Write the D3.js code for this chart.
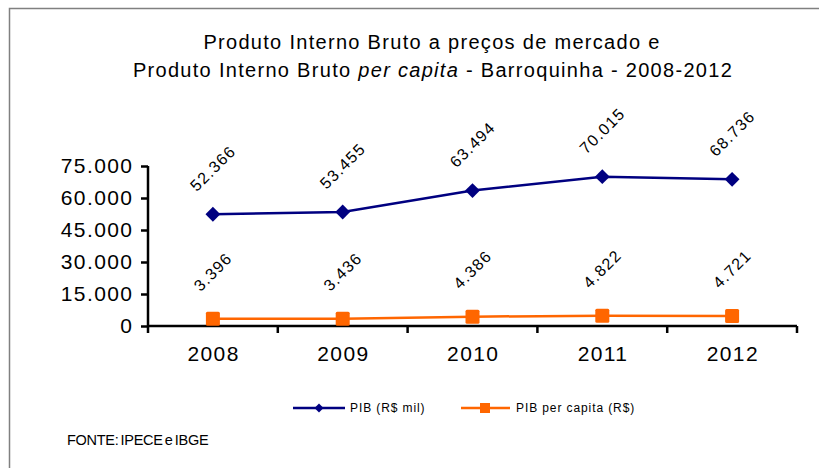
<!DOCTYPE html>
<html><head><meta charset="utf-8">
<script src="https://cdn.jsdelivr.net/npm/d3@7"></script>
<style>body{margin:0;background:#fff}svg{display:block;font-family:"Liberation Sans",Arial,sans-serif}</style>
</head><body><svg id="c" width="819" height="468"></svg>
<script>
const years = ["2008","2009","2010","2011","2012"];
const pib = [52366, 53455, 63494, 70015, 68736];
const pibPerCapita = [3396, 3436, 4386, 4822, 4721];
const yTicks = [0, 15000, 30000, 45000, 60000, 75000];
const seriesNames = ["PIB (R$ mil)", "PIB per capita (R$)"];
const colors = ["#000080", "#FF6600"];

const svg = d3.select("#c");
const fmt = v => v === 0 ? "0" : d3.format(",")(v).replace(/,/g, ".");

// frame (top & left)
svg.append("path").attr("d","M9.5,468 L9.5,8.5 L819,8.5").attr("fill","none").attr("stroke","#808080").attr("stroke-width",1.5);

// title
const t = svg.append("text").attr("text-anchor","middle").attr("font-size",20).attr("letter-spacing",1.3).attr("fill","#000");
t.append("tspan").attr("x",432).attr("y",49).text("Produto Interno Bruto a preços de mercado  e");
const l2 = t.append("tspan").attr("x",433).attr("y",77);
l2.append("tspan").text("Produto Interno Bruto ");
l2.append("tspan").attr("font-style","italic").text("per capita");
l2.append("tspan").text(" - Barroquinha - 2008-2012");

const x = d3.scaleBand().domain(years).range([148, 797]);
const y = d3.scaleLinear().domain([0, 75000]).range([326, 166]);

// y axis
const ya = svg.append("g").attr("transform","translate(148,0)")
  .call(d3.axisLeft(y).tickValues(yTicks).tickFormat(fmt).tickSize(7).tickPadding(9));
ya.selectAll("text").attr("font-size",21).attr("letter-spacing",1.4).attr("dx",1.4).attr("fill","#000").attr("font-family","Liberation Sans, Arial, sans-serif");
ya.selectAll("line,path").attr("stroke","#000").attr("stroke-width",2.5);
ya.select("path").attr("d","M0,166V326");

// x axis
const xa = svg.append("g").attr("transform","translate(0,326)")
  .call(d3.axisBottom(x).tickSize(0).tickPadding(20));
xa.selectAll("text").attr("font-size",21).attr("letter-spacing",1.4).attr("dx",0.7).attr("fill","#000").attr("font-family","Liberation Sans, Arial, sans-serif");
xa.select("path").attr("d","M148,0H797").attr("stroke","#000").attr("stroke-width",2.5);
const bounds = years.map(d => x(d)).concat([x.range()[1]]);
xa.selectAll(".bt").data(bounds).enter().append("line")
  .attr("x1",d=>d).attr("x2",d=>d).attr("y1",0).attr("y2",7).attr("stroke","#000").attr("stroke-width",2.5);

const cx = d => x(d) + x.bandwidth()/2;
const line = d3.line().x((d,i)=>cx(years[i])).y(d=>y(d));

// PIB series
svg.append("path").datum(pib).attr("d",line).attr("fill","none").attr("stroke",colors[0]).attr("stroke-width",2.5);
svg.selectAll(".dm").data(pib).enter().append("path")
  .attr("d", d3.symbol().type(d3.symbolSquare).size(110))
  .attr("transform",(d,i)=>`translate(${cx(years[i])},${y(d)}) rotate(45)`).attr("fill",colors[0]);

// per capita series
svg.append("path").datum(pibPerCapita).attr("d",line).attr("fill","none").attr("stroke",colors[1]).attr("stroke-width",2.5);
svg.selectAll(".sq").data(pibPerCapita).enter().append("rect")
  .attr("x",(d,i)=>cx(years[i])-7).attr("y",d=>y(d)-7).attr("width",14).attr("height",14).attr("rx",1.5).attr("fill",colors[1]);

// data labels
function labels(data, dy){
  svg.selectAll(null).data(data).enter().append("text")
    .attr("transform",(d,i)=>`translate(${cx(years[i])},${y(d)-dy}) rotate(-45)`)
    .attr("text-anchor","middle").attr("dy","0.35em").attr("font-size",16).attr("letter-spacing",1.3).attr("fill","#000")
    .text(fmt);
}
labels(pib, 46);
labels(pibPerCapita, 47);

// legend
const lg = svg.append("g").attr("font-size",12).attr("letter-spacing",0.9).attr("fill","#000");
lg.append("line").attr("x1",293).attr("x2",345).attr("y1",408).attr("y2",408).attr("stroke",colors[0]).attr("stroke-width",2.5);
lg.append("path").attr("d",d3.symbol().type(d3.symbolSquare).size(40)).attr("transform","translate(319,408) rotate(45)").attr("fill",colors[0]);
lg.append("text").attr("x",350).attr("y",412).text(seriesNames[0]);
lg.append("line").attr("x1",461).attr("x2",510).attr("y1",408).attr("y2",408).attr("stroke",colors[1]).attr("stroke-width",2.5);
lg.append("rect").attr("x",480).attr("y",403).attr("width",10).attr("height",10).attr("fill",colors[1]);
lg.append("text").attr("x",516).attr("y",412).text(seriesNames[1]);

// source
svg.append("text").attr("x",67).attr("y",445).attr("font-size",14.5).attr("letter-spacing",-0.3).attr("word-spacing",-1.5).attr("fill","#000").text("FONTE: IPECE e IBGE");
</script></body></html>
